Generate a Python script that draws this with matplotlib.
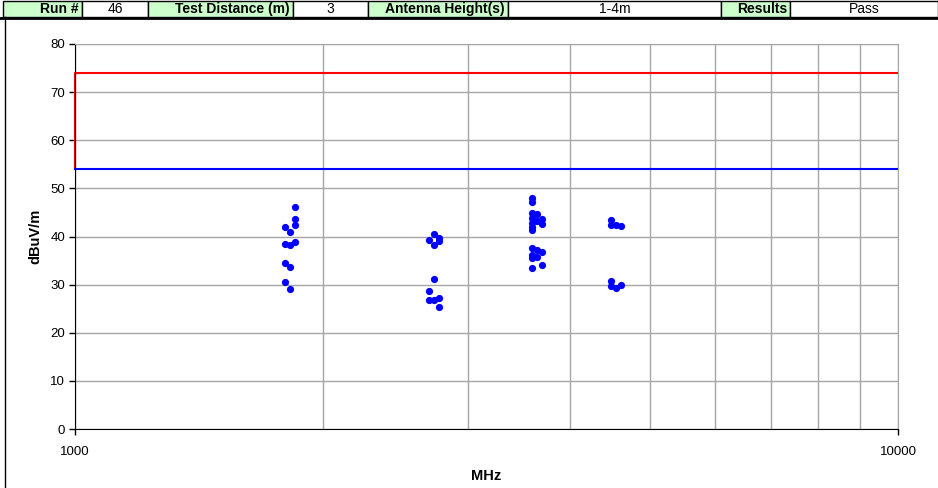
import numpy as np
import matplotlib
matplotlib.use('Agg')
import matplotlib.pyplot as plt
from matplotlib.patches import Rectangle
from matplotlib.lines import Line2D

plt.rcParams['font.family'] = ['Liberation Sans', 'DejaVu Sans']

# header table: (text, is_label, left px, right px)
header_cells = [('Run #', True, 3, 82), ('46', False, 82, 148),
                ('Test Distance (m)', True, 148, 293), ('3', False, 293, 368),
                ('Antenna Height(s)', True, 368, 508), ('1-4m', False, 508, 721),
                ('Results', True, 721, 790), ('Pass', False, 790, 938)]

# limit lines
limit_freq = [1000, 10000]
peak_limit = 74
avg_limit = 54

# measured points (MHz, dBuV/m)
freq = [1850, 1850, 1850, 1799, 1825, 1799, 1825, 1850, 1799, 1825, 1799, 1825,
        2731, 2692, 2769, 2731, 2769, 2731, 2692, 2692, 2731, 2769, 2769,
        3592, 3592, 3592, 3592, 3592, 3592, 3592, 3642, 3642, 3693, 3693,
        3592, 3642, 3693, 3592, 3592, 3642, 3592, 3693,
        4480, 4480, 4544, 4607, 4480, 4480, 4544, 4607]
level = [46.1, 43.6, 42.4, 42.0, 41.0, 38.4, 38.2, 38.9, 34.5, 33.7, 30.5, 29.1,
         40.5, 39.3, 39.1, 38.2, 39.7, 31.2, 28.7, 26.8, 26.8, 27.2, 25.4,
         48.0, 47.2, 44.9, 43.9, 42.9, 41.9, 41.4, 44.7, 43.2, 43.7, 42.7,
         37.6, 37.2, 36.8, 36.2, 35.5, 35.7, 33.5, 34.1,
         43.4, 42.4, 42.4, 42.2, 30.8, 29.7, 29.3, 29.9]

W, H = 938, 488
fig = plt.figure(figsize=(W / 100, H / 100), dpi=100)

# header
for text, is_label, x0, x1 in header_cells:
    color = '#ccffcc' if is_label else 'white'
    fig.patches.append(Rectangle((x0 / W, 1 - 17 / H), (x1 - x0) / W, 16 / H,
                                 transform=fig.transFigure, facecolor=color,
                                 edgecolor='black', linewidth=1))
    if is_label:
        fig.text((x1 - 3) / W, 1 - 9 / H, text, ha='right', va='center',
                 fontsize=10, fontweight='bold')
    else:
        fig.text((x0 + x1) / 2 / W, 1 - 9 / H, text, ha='center', va='center',
                 fontsize=10)
fig.lines.append(Line2D([0, 1], [1 - 17.5 / H, 1 - 17.5 / H], transform=fig.transFigure,
                        color='black', linewidth=2))
fig.lines.append(Line2D([4.5 / W, 4.5 / W], [0, 1 - 17 / H], transform=fig.transFigure,
                        color='black', linewidth=1))

ax = fig.add_axes([75 / W, 1 - 429 / H, 823 / W, 385 / H])
ax.set_xscale('log')
ax.set_xlim(1000, 10000)
ax.set_ylim(0, 80)
ax.set_yticks(range(0, 81, 10))
ax.set_xticks([1000, 10000])
ax.set_xticklabels(['1000', '10000'])
ax.xaxis.set_minor_locator(matplotlib.ticker.LogLocator(subs=np.arange(2, 10)))
ax.xaxis.set_minor_formatter(matplotlib.ticker.NullFormatter())
ax.tick_params(axis='x', which='minor', length=0)
ax.grid(True, which='both', axis='x', color='#a6a6a6', linewidth=1)
ax.grid(True, which='major', axis='y', color='#a6a6a6', linewidth=1)
ax.set_axisbelow(True)
ax.tick_params(axis='both', which='major', direction='out', length=4, width=1,
               labelsize=9.5, colors='black', pad=3)
ax.tick_params(axis='x', pad=8)
for s in ['top', 'right']:
    ax.spines[s].set_color('#a6a6a6')
for s in ['left', 'bottom']:
    ax.spines[s].set_color('black')

ax.plot([limit_freq[0], limit_freq[0], limit_freq[1]], [avg_limit, peak_limit, peak_limit],
        color='red', linewidth=1.5, clip_on=False)
ax.plot(limit_freq, [avg_limit, avg_limit], color='blue', linewidth=1.5, clip_on=False)
ax.plot(freq, level, 'o', color='blue', markersize=5.2, markeredgewidth=0)

ax.set_ylabel('dBuV/m', fontsize=10.5, fontweight='bold', labelpad=6)
ax.set_xlabel('MHz', fontsize=10.5, fontweight='bold', labelpad=8)

fig.savefig('out.png', dpi=100)
